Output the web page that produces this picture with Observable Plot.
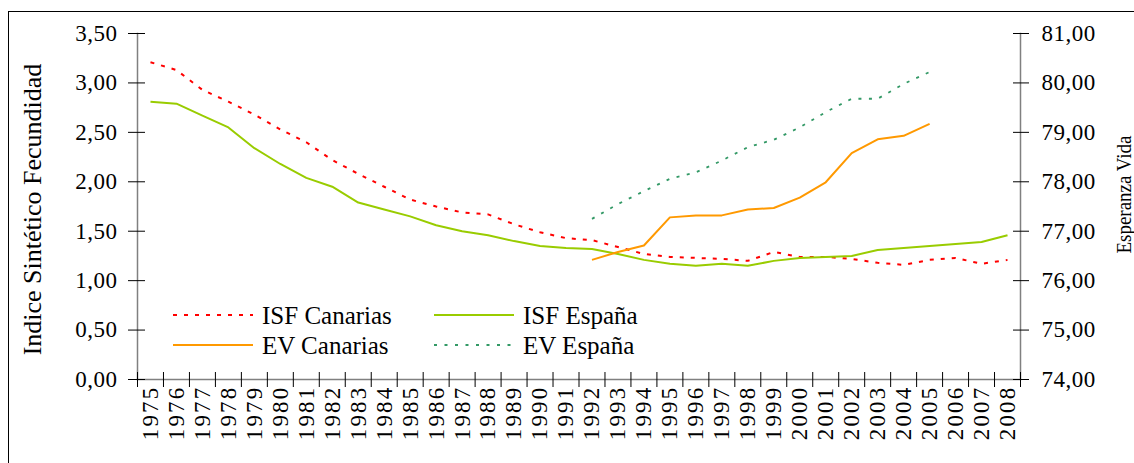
<!DOCTYPE html>
<html><head><meta charset="utf-8">
<script src="https://cdn.jsdelivr.net/npm/d3@7"></script>
<script src="https://cdn.jsdelivr.net/npm/@observablehq/plot@0.6"></script>
<style>
html,body{margin:0;padding:0;background:#fff;overflow:hidden;}
#wrap{position:relative;width:1134px;height:463px;overflow:hidden;background:#fff;}
#border{position:absolute;left:8px;top:11px;width:1200px;height:520px;border:1px solid #000;box-sizing:border-box;}
#chart{position:absolute;left:0;top:0;}
#legend{position:absolute;left:0;top:0;pointer-events:none;}
#chart svg, #chart svg text{font-family:"Liberation Serif","Times New Roman",serif !important;}
[aria-label="x-axis tick label"] text{letter-spacing:2.2px;}
[aria-label="y-axis tick label"] text{letter-spacing:0.5px;}
</style></head>
<body>
<div id="wrap"><div id="border"></div><div id="chart"></div><svg id="legend" width="1134" height="463"></svg></div>
<script>
// ---- data ----
const years = ["1975","1976","1977","1978","1979","1980","1981","1982","1983","1984","1985","1986","1987","1988","1989","1990","1991","1992","1993","1994","1995","1996","1997","1998","1999","2000","2001","2002","2003","2004","2005","2006","2007","2008"];
const isfCanarias = [3.21,3.13,2.93,2.81,2.68,2.53,2.40,2.22,2.08,1.95,1.82,1.75,1.69,1.67,1.57,1.49,1.43,1.41,1.34,1.27,1.24,1.23,1.22,1.20,1.29,1.24,1.24,1.22,1.18,1.16,1.21,1.23,1.17,1.21];
const isfEspana = [2.81,2.79,2.67,2.55,2.34,2.18,2.04,1.95,1.79,1.72,1.65,1.56,1.50,1.46,1.40,1.35,1.33,1.32,1.27,1.21,1.17,1.15,1.17,1.15,1.20,1.23,1.24,1.25,1.31,1.33,1.35,1.37,1.39,1.46];
const evYears = ["1992","1993","1994","1995","1996","1997","1998","1999","2000","2001","2002","2003","2004","2005"];
const evCanarias = [76.42,76.58,76.71,77.28,77.32,77.32,77.44,77.47,77.68,77.99,78.58,78.86,78.93,79.17];
const evEspana = [77.25,77.55,77.81,78.06,78.19,78.43,78.70,78.85,79.10,79.41,79.68,79.68,79.98,80.22];
const leftTicks = [0,0.5,1,1.5,2,2.5,3,3.5];
const rightMin = 74, rightPerLeft = 2; // right axis 74..81 shares the 0..3.5 range
const seriesNames = ["ISF Canarias","ISF España","EV Canarias","EV España"];
const seriesColors = ["#ff0000","#99cc00","#ff9900","#339966"];
const seriesDash = ["4,7",null,null,"3,7.5"];
const seriesWidth = [2,2,2,1.8];

// ---- build ----
const FONT = "Liberation Serif";
const fmt = v => d3.format(".2f")(v).replace(".", ",");
const toLeft = v => (v - rightMin) / rightPerLeft;
const W = 1134, H = 463, mL = 137, mR = 114, mT = 33, mB = 84;
const step = (W - mL - mR) / years.length;

const rowsISFC = years.map((y,i) => ({year:y, v:isfCanarias[i]}));
const rowsISFE = years.map((y,i) => ({year:y, v:isfEspana[i]}));
const rowsEVC = evYears.map((y,i) => ({year:y, v:toLeft(evCanarias[i])}));
const rowsEVE = evYears.map((y,i) => ({year:y, v:toLeft(evEspana[i])}));
const seriesRows = [rowsISFC, rowsISFE, rowsEVC, rowsEVE];

const lines = seriesRows.map((rows,k) => Plot.lineY(rows, {
  x:"year", y:"v", stroke: seriesColors[k], strokeWidth: seriesWidth[k],
  strokeDasharray: seriesDash[k] || undefined, strokeLinecap: "butt"
}));

const chart = Plot.plot({
  width: W, height: H,
  marginLeft: mL, marginRight: mR, marginTop: mT, marginBottom: mB,
  style: {fontFamily: FONT, fontSize: "23px", background: "transparent", color: "#000", overflow: "visible"},
  x: {type: "point", domain: years, padding: 0.5},
  y: {domain: [0, 3.5]},
  marks: [
    Plot.frame({anchor: "left", stroke: "#808080", strokeWidth: 1.5}),
    Plot.frame({anchor: "right", stroke: "#808080", strokeWidth: 1.5}),
    Plot.frame({anchor: "bottom", stroke: "#808080", strokeWidth: 1.5}),
    Plot.axisY(leftTicks, {anchor: "left", tickSize: 9, tickPadding: 11, tickFormat: fmt, label: null, fontSize: 23, fontFamily: FONT, stroke: "#000"}),
    Plot.axisY(leftTicks, {anchor: "left", tickSize: -8, fill: null, label: null, stroke: "#000"}),
    Plot.axisY(leftTicks, {anchor: "right", tickSize: 8, tickPadding: 13, tickFormat: d => fmt(rightMin + rightPerLeft * d), label: null, fontSize: 23, fontFamily: FONT, stroke: "#000"}),
    Plot.axisY(leftTicks, {anchor: "right", tickSize: -8, fill: null, label: null, stroke: "#000"}),
    Plot.axisX({anchor: "bottom", tickSize: 0, tickPadding: 6, tickRotate: -90, label: null, fontSize: 23, fontFamily: FONT}),
    Plot.axisX(years, {anchor: "bottom", tickSize: 8, fill: null, label: null, dx: -step/2, stroke: "#000"}),
    Plot.axisX(years, {anchor: "bottom", tickSize: -7, fill: null, label: null, dx: -step/2, stroke: "#000"}),
    Plot.axisX([years[years.length-1]], {anchor: "bottom", tickSize: 8, fill: null, label: null, dx: step/2, stroke: "#000"}),
    Plot.axisX([years[years.length-1]], {anchor: "bottom", tickSize: -7, fill: null, label: null, dx: step/2, stroke: "#000"}),
    Plot.text(["Indice Sintético Fecundidad"], {frameAnchor: "left", textAnchor: "middle", rotate: -90, dx: -115, dy: 3, lineAnchor: "top", fontSize: 26, fontFamily: FONT, text: d => d}),
    Plot.text(["Esperanza Vida"], {frameAnchor: "right", textAnchor: "middle", rotate: -90, dx: 110, dy: -12, lineAnchor: "bottom", fontSize: 22, fontFamily: FONT, text: d => d}),
    ...lines
  ]
});
document.getElementById("chart").appendChild(chart);
// the right-hand title is set in a narrow face in the reference
d3.select(chart).selectAll("text")
  .filter(function(){ return this.textContent === "Esperanza Vida"; })
  .attr("textLength", 118).attr("lengthAdjust", "spacingAndGlyphs");

// ---- legend (overlay inside plot area) ----
const lg = d3.select("#legend");
const colX = [173, 434], rowY = [315, 345], lineLen = 80, textGap = 89;
seriesNames.forEach((name, k) => {
  const cx = colX[k % 2], cy = rowY[Math.floor(k / 2)];
  lg.append("line").attr("x1", cx).attr("x2", cx + lineLen).attr("y1", cy).attr("y2", cy)
    .attr("stroke", seriesColors[k]).attr("stroke-width", seriesWidth[k])
    .attr("stroke-dasharray", seriesDash[k] || null);
  lg.append("text").attr("x", cx + textGap).attr("y", cy + 9)
    .attr("font-family", "'Liberation Serif', 'Times New Roman', serif").attr("font-size", 25)
    .attr("fill", "#000").text(name);
});
</script>
</body></html>
